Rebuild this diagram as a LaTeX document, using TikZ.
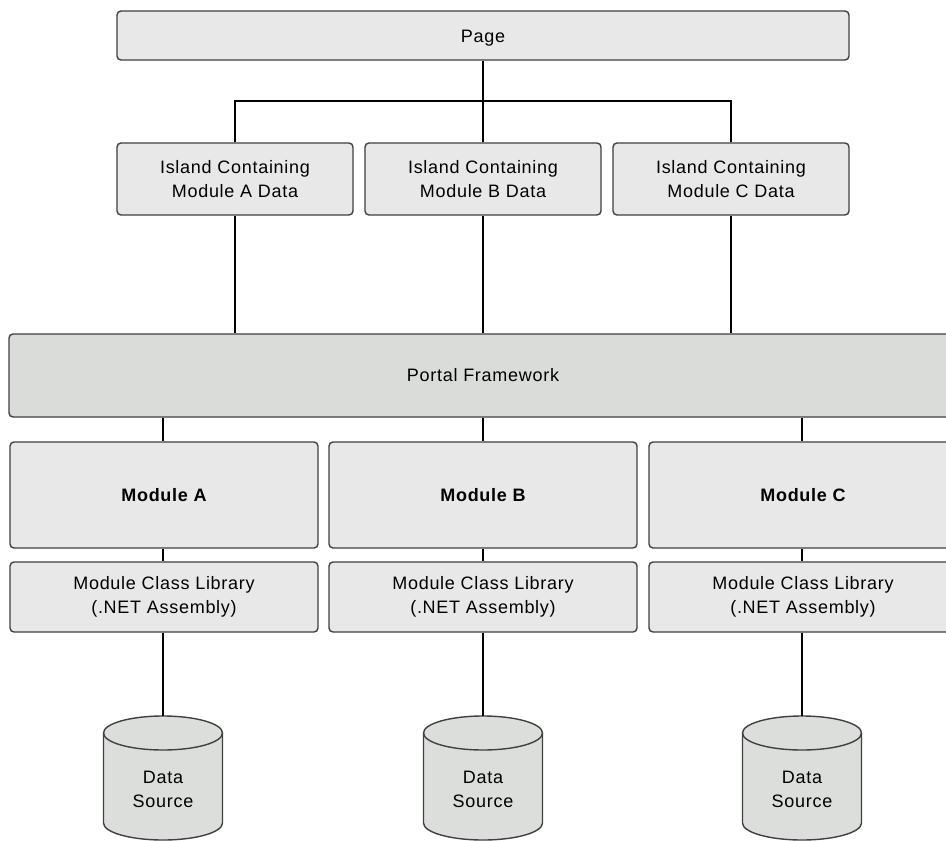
\documentclass[tikz,border=0pt]{standalone}
\usepackage{fontspec}
\setmainfont[LetterSpace=4]{Liberation Sans}
\definecolor{boxfill}{HTML}{E8E8E8}
\definecolor{portalfill}{HTML}{D9DCD9}
\definecolor{dbfill}{HTML}{DCDEDC}
\definecolor{edge}{HTML}{404040}
\tikzset{
  box/.style={draw=edge, line width=1.4pt, fill=boxfill, rounded corners=4pt,
    align=center, font=\fontsize{18}{24}\selectfont, inner sep=0pt},
  link/.style={draw=black, line width=1.3pt},
  dbshell/.style={draw=edge, line width=1.4pt, fill=dbfill},
  dbtext/.style={minimum width=119pt, minimum height=146pt, inner sep=0pt,
    align=center, font=\fontsize{18}{24}\selectfont}
}
\begin{document}
\begin{tikzpicture}[x=1pt,y=-1pt]
\useasboundingbox (0,0) rectangle (946,841);
\clip (0,0) rectangle (946,841);
\fill[white] (0,0) rectangle (946,841);

% top level page
\node[box, minimum width=732pt, minimum height=49pt, text height=13pt, text depth=0pt]
  (page) at (483,35.5) {Page};

% islands
\node[box, minimum width=236pt, minimum height=72pt] (islA) at (235,179) {Island Containing\\Module A Data};
\node[box, minimum width=236pt, minimum height=72pt] (islB) at (483,179) {Island Containing\\Module B Data};
\node[box, minimum width=236pt, minimum height=72pt] (islC) at (731,179) {Island Containing\\Module C Data};

% framework
\node[box, fill=portalfill, minimum width=948pt, minimum height=83pt] (portal) at (483,375.5) {Portal Framework};

% modules
\node[box, minimum width=308pt, minimum height=106pt] (modA) at (164,495) {\bfseries Module A};
\node[box, minimum width=308pt, minimum height=106pt] (modB) at (483,495) {\bfseries Module B};
\node[box, minimum width=308pt, minimum height=106pt] (modC) at (803,495) {\bfseries Module C};

% class libraries
\node[box, minimum width=308pt, minimum height=70pt] (libA) at (164,597) {Module Class Library\\(.NET Assembly)};
\node[box, minimum width=308pt, minimum height=70pt] (libB) at (483,597) {Module Class Library\\(.NET Assembly)};
\node[box, minimum width=308pt, minimum height=70pt] (libC) at (803,597) {Module Class Library\\(.NET Assembly)};

% data source cylinders: rx = 59.5, ry = 17, ellipses centred at y = 733 and y = 823
\foreach \cx in {163,483,802} {
  \path[dbshell] (\cx-59.5,733) -- (\cx-59.5,823) arc (180:0:59.5 and 17)
        -- (\cx+59.5,733) arc (0:-180:59.5 and 17) -- cycle;
  \draw[edge, line width=1.4pt] (\cx-59.5,733) arc (180:0:59.5 and 17);
}
\node[dbtext] (dsA) at (163,789) {Data\\Source};
\node[dbtext] (dsB) at (483,789) {Data\\Source};
\node[dbtext] (dsC) at (802,789) {Data\\Source};

% connectors
\coordinate (bus) at (483,101);
\draw[link] (page.south) -- (islB.north);
\draw[link] (islA.north) |- (bus) -| (islC.north);
\draw[link] (islA.south) -- (islA.south |- portal.north);
\draw[link] (islB.south) -- (portal.north);
\draw[link] (islC.south) -- (islC.south |- portal.north);
\draw[link] ([xshift=-1pt]portal.south -| modA.north) -- ([xshift=-1pt]modA.north);
\draw[link] (portal.south) -- (modB.north);
\draw[link] ([xshift=-1pt]portal.south -| modC.north) -- ([xshift=-1pt]modC.north);
\draw[link] ([xshift=-1pt]modA.south) -- ([xshift=-1pt]libA.north);
\draw[link] (modB.south) -- (libB.north);
\draw[link] ([xshift=-1pt]modC.south) -- ([xshift=-1pt]libC.north);
\draw[link] (libA.south -| dsA.north) -- (dsA.north);
\draw[link] (libB.south) -- (dsB.north);
\draw[link] (libC.south -| dsC.north) -- (dsC.north);
\end{tikzpicture}
\end{document}
